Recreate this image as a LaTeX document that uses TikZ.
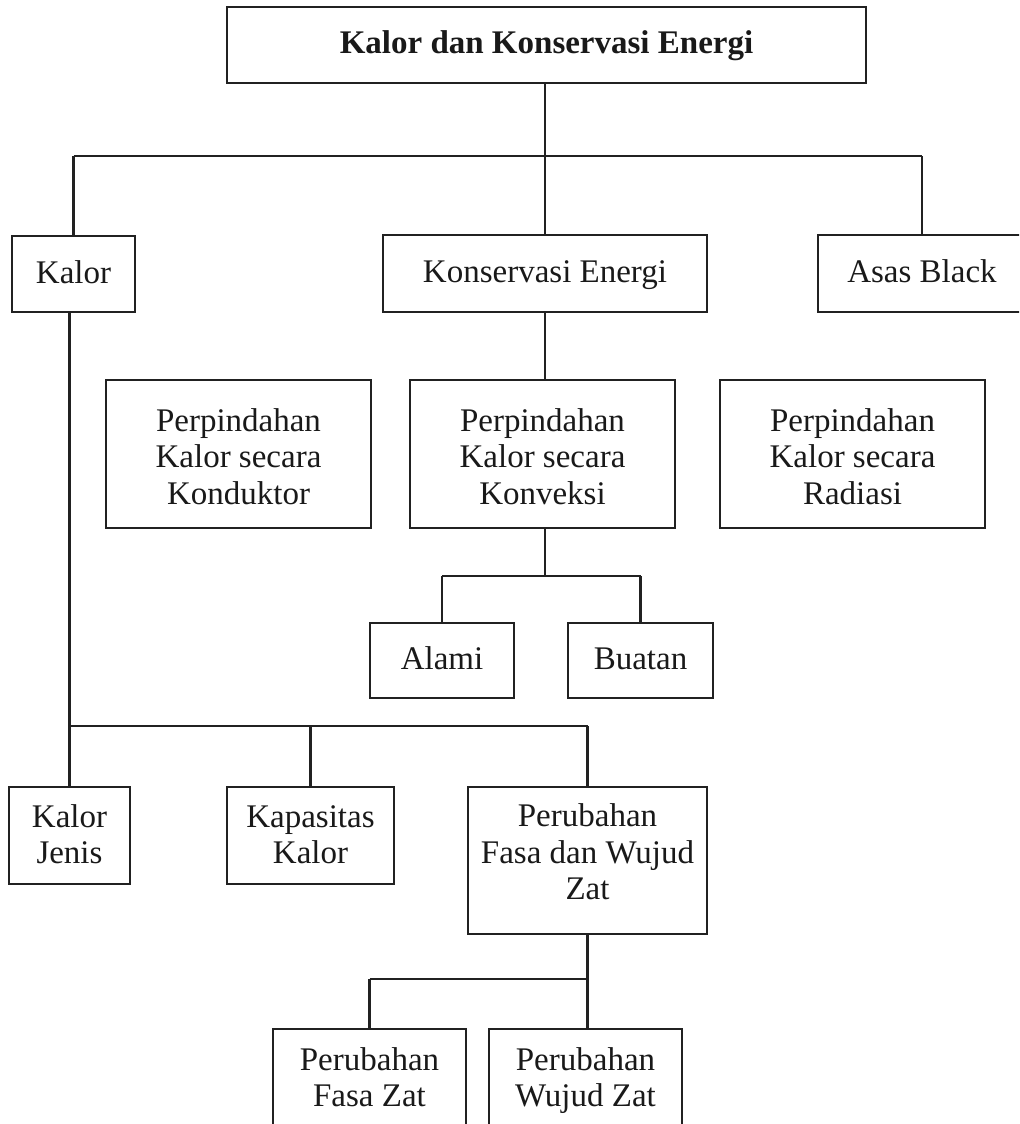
\documentclass[tikz,border=0pt]{standalone}
\usepackage{fontspec}
\setmainfont{Liberation Serif}
\newcommand\bxstrut{\rule[-4.5pt]{0pt}{18pt}}
\newcommand\mlines[2]{\raisebox{#1}[\height][\depth]{\begin{tabular}{@{}c@{}}#2\end{tabular}}}
\begin{document}
\begin{tikzpicture}[x=0.5pt,y=-0.5pt,
  box/.style={draw=black!87, line width=1.35pt, align=center, inner sep=0pt,
    font=\fontsize{16.5}{18.3}\selectfont, text=black!90},
  single/.style={box, execute at begin node=\bxstrut},
  conn/.style={draw=black!87, line width=1.15pt}]
\useasboundingbox (0,0) rectangle (1019,1124);
\clip (0,0) rectangle (1019,1124);

\node[single, minimum width=319.5pt, minimum height=38pt, font=\fontsize{16.5}{18.3}\selectfont\bfseries] (title) at (546.5,45) {Kalor dan Konservasi Energi};
\node[single, minimum width=61.5pt, minimum height=38pt] (kalor) at (73.5,274) {Kalor};
\node[single, minimum width=162pt, minimum height=38.5pt] (ke) at (545,273.5) {Konservasi Energi};
\node[single, minimum width=104pt, minimum height=38.5pt] (asas) at (922,273.5) {Asas Black};

\node[box, minimum width=132.5pt, minimum height=74pt] (kond) at (238.5,454) {\mlines{-3.25pt}{Perpindahan\\Kalor secara\\Konduktor}};
\node[box, minimum width=132.5pt, minimum height=74pt] (konv) at (542.5,454) {\mlines{-3.25pt}{Perpindahan\\Kalor secara\\Konveksi}};
\node[box, minimum width=132.5pt, minimum height=74pt] (rad) at (852.5,454) {\mlines{-3.25pt}{Perpindahan\\Kalor secara\\Radiasi}};

\node[single, minimum width=72pt, minimum height=37.5pt] (alami) at (442,660.5) {Alami};
\node[single, minimum width=72.5pt, minimum height=37.5pt] (buatan) at (640.5,660.5) {Buatan};

\node[box, minimum width=60.5pt, minimum height=48.5pt] (kj) at (69.5,835.5) {\mlines{-1.25pt}{Kalor\\Jenis}};
\node[box, minimum width=83.5pt, minimum height=48.5pt] (kap) at (310.5,835.5) {\mlines{-1.25pt}{Kapasitas\\Kalor}};
\node[box, minimum width=119.5pt, minimum height=73.5pt] (pfw) at (587.5,860.5) {\mlines{2.25pt}{Perubahan\\Fasa dan Wujud\\Zat}};

\node[box, minimum width=96.5pt, minimum height=48.5pt] (fasa) at (369.5,1077.5) {\mlines{-1.75pt}{Perubahan\\Fasa Zat}};
\node[box, minimum width=96.5pt, minimum height=48.5pt] (wujud) at (585.5,1077.5) {\mlines{-1.75pt}{Perubahan\\Wujud Zat}};

\coordinate (j) at (0,156);
\coordinate (k) at (0,726);
\coordinate (a) at (0,576);
\coordinate (f) at (0,979);

% top level
\draw[conn] (ke.north |- title.south) -- (ke.north);
\draw[conn] (kalor.north |- j) -- (asas.north |- j);
\draw[conn] (kalor.north |- j) -- (kalor.north);
\draw[conn] (asas.north |- j) -- (asas.north);

% Konservasi -> Konveksi -> Alami/Buatan
\draw[conn] (ke.south) -- (ke.south |- konv.north);
\draw[conn] (ke.south |- konv.south) -- (ke.south |- a);
\draw[conn] (alami.north |- a) -- (buatan.north |- a);
\draw[conn] (alami.north |- a) -- (alami.north);
\draw[conn] (buatan.north |- a) -- (buatan.north);

% Kalor -> subtopics
\draw[conn] (kj.north |- kalor.south) -- (kj.north);
\draw[conn] (kj.north |- k) -- (pfw.north |- k);
\draw[conn] (kap.north |- k) -- (kap.north);
\draw[conn] (pfw.north |- k) -- (pfw.north);

% Perubahan -> Fasa / Wujud
\draw[conn] (pfw.south) -- (pfw.south |- wujud.north);
\draw[conn] (fasa.north |- f) -- (pfw.south |- f);
\draw[conn] (fasa.north |- f) -- (fasa.north);
\end{tikzpicture}
\end{document}
